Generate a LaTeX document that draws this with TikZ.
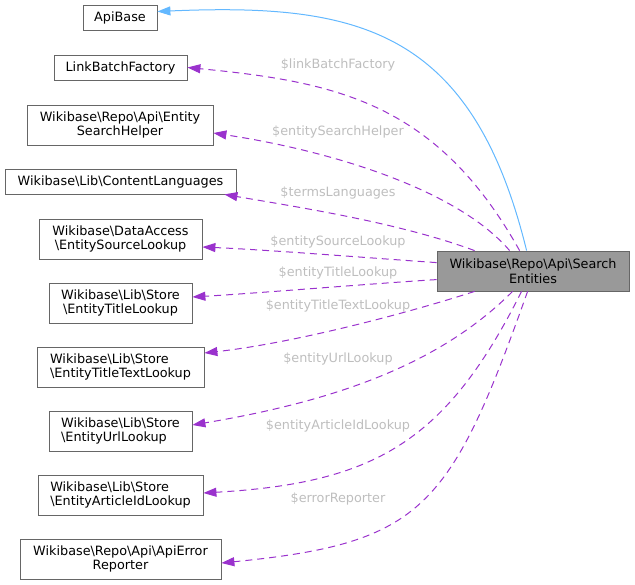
\documentclass[tikz,border=0pt]{standalone}
\usepackage{fontspec}
\setmainfont{DejaVu Sans}
\usetikzlibrary{arrows.meta, positioning, calc}
\definecolor{boxgray}{HTML}{666666}
\definecolor{boxfill}{HTML}{999999}
\definecolor{deppurple}{HTML}{9A32CD}
\definecolor{inhblue}{HTML}{63B8FF}
\definecolor{labelgray}{HTML}{BEBEBE}
\newcommand{\bsl}{\textbackslash}

\begin{document}
\begin{tikzpicture}[x=1pt, y=-1pt,
class_box/.style={draw=boxgray, fill=white, line width=0.8pt, inner sep=0pt, minimum height=25pt, font=\fontsize{12.8}{14.5}\selectfont},
two_line/.style={minimum height=40pt, align=center},
dep_edge/.style={-{Triangle[length=13pt, width=9pt]}, deppurple, line width=1pt, dash pattern=on 7pt off 5pt},
inh_edge/.style={-{Triangle[length=13pt, width=9pt]}, inhblue, line width=1pt},
edge_label/.style={text=labelgray, inner sep=0pt, font=\fontsize{12.8}{14.5}\selectfont}
]
\useasboundingbox (0,0) rectangle (635,585);

% Draw classes
    \node[class_box, minimum width=74] (ab) at (120,17.5) {ApiBase};
    \node[class_box, minimum width=133] (lbf) at (120.5,67.5) {LinkBatchFactory};
    \node[class_box, two_line, minimum width=186] (esh) at (120,125) {Wikibase\bsl Repo\bsl Api\bsl Entity\\SearchHelper};
    \node[class_box, minimum width=231] (cl) at (120.5,181.5) {Wikibase\bsl Lib\bsl ContentLanguages};
    \node[class_box, two_line, minimum width=163] (esl) at (120.5,239) {Wikibase\bsl DataAccess\\\bsl EntitySourceLookup};
    \node[class_box, two_line, minimum width=143] (etl) at (120.5,303) {Wikibase\bsl Lib\bsl Store\\\bsl EntityTitleLookup};
    \node[class_box, two_line, align=left, minimum width=167] (ettl) at (120.5,367) {Wikibase\bsl Lib\bsl Store\\\bsl EntityTitleTextLookup};
    \node[class_box, two_line, align=left, minimum width=143] (eul) at (120.5,431) {Wikibase\bsl Lib\bsl Store\\\bsl EntityUrlLookup};
    \node[class_box, two_line, align=left, minimum width=165] (eal) at (120.5,495) {Wikibase\bsl Lib\bsl Store\\\bsl EntityArticleIdLookup};
    \node[class_box, two_line, minimum width=201] (aer) at (120.5,559) {Wikibase\bsl Repo\bsl Api\bsl ApiError\\Reporter};
    \node[class_box, two_line, fill=boxfill, minimum width=192] (se) at (533,271) {Wikibase\bsl Repo\bsl Api\bsl Search\\Entities};

% Draw inheritance
    \draw[inh_edge] ($(se.north west)+(90,0)$) .. controls (472,28) and (357,3) .. ($(ab.east)+(0,-6)$);

% Draw members
    \draw[dep_edge] ($(se.north west)+(83,0)$) .. controls (437,103) and (337,82) .. (lbf.east);
    \draw[dep_edge] ($(se.north west)+(73,0)$) .. controls (458,190) and (332,151) .. ($(esh.east)+(0,8)$);
    \draw[dep_edge] ($(se.north west)+(38,0)$) .. controls (400,223) and (303,208) .. ($(cl.south east)+(-12,0)$);
    \draw[dep_edge] ($(se.north west)+(0,12)$) .. controls (370,258) and (270,250) .. ($(esl.east)+(0,8)$);
    \draw[dep_edge] ($(se.north west)+(0,29)$) .. controls (380,283) and (260,293) .. ($(etl.east)+(0,-6)$);
    \draw[dep_edge] ($(se.south west)+(38,0)$) .. controls (408,313) and (294,343) .. ($(ettl.east)+(0,-14)$);
    \draw[dep_edge] ($(se.south west)+(76,0)$) .. controls (442,362) and (341,400) .. ($(eul.east)+(0,-6)$);
    \draw[dep_edge] ($(se.south west)+(85,0)$) .. controls (446,442) and (375,483) .. ($(eal.east)+(0,-2)$);
    \draw[dep_edge] ($(se.south west)+(91,0)$) .. controls (450,510) and (422,543) .. ($(aer.east)+(0,4)$);

% Draw member names
    \node[edge_label] (l_lbf) at (338,65) {\$linkBatchFactory};
    \node[edge_label] (l_esh) at (338,132) {\$entitySearchHelper};
    \node[edge_label] (l_cl) at (338,193) {\$termsLanguages};
    \node[edge_label] (l_esl) at (338,242) {\$entitySourceLookup};
    \node[edge_label] (l_etl) at (338,273) {\$entityTitleLookup};
    \node[edge_label] (l_ettl) at (338,306) {\$entityTitleTextLookup};
    \node[edge_label] (l_eul) at (338,359) {\$entityUrlLookup};
    \node[edge_label] (l_eal) at (338,426) {\$entityArticleIdLookup};
    \node[edge_label] (l_aer) at (338,499) {\$errorReporter};
\end{tikzpicture}
\end{document}
